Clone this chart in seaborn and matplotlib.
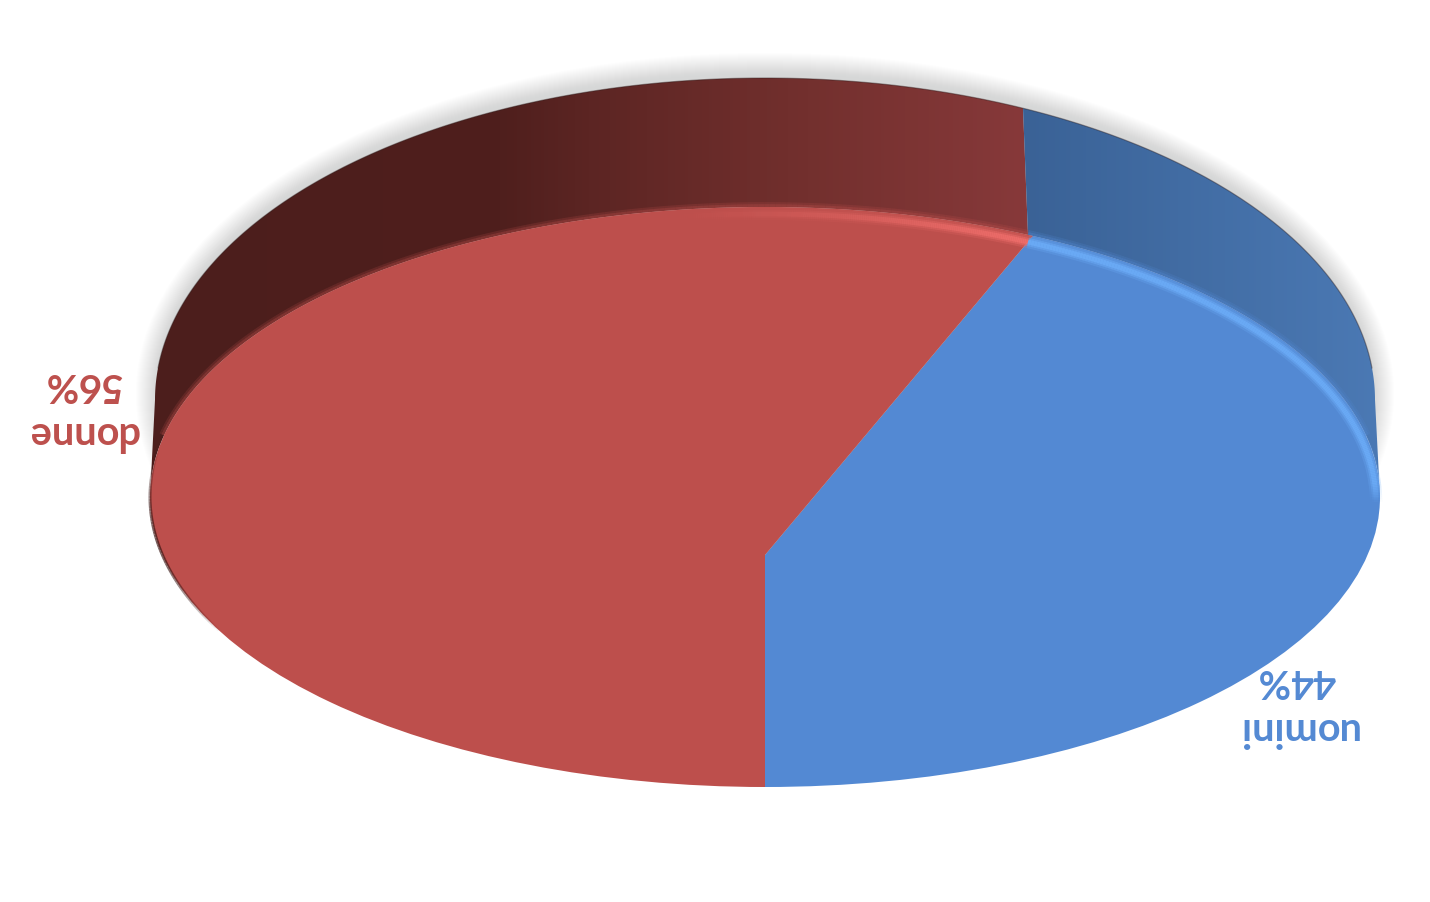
import numpy as np
import seaborn as sns
import matplotlib
matplotlib.use("Agg")
import matplotlib.pyplot as plt
from matplotlib.collections import LineCollection
from matplotlib.colors import LinearSegmentedColormap, to_rgb
from matplotlib.patches import Ellipse, Polygon
from matplotlib.transforms import Affine2D

categories = ["uomini", "donne"]
shares = [44, 56]
face_colors = ["#5389D3", "#BD4F4C"]

# geometry of the fake 3d disc, in image pixels
FACE = (765, 497, 615, 290)
BACK = (765, 400, 610, 322)
APEX = (765, 555)
SPLIT_BACK_X, SPLIT_FACE_X = 1023, 1028

sns.set_theme(style="white")
plt.rcParams["font.family"] = ["Lato", "DejaVu Sans"]

fig = plt.figure(figsize=(14.3, 9.02), dpi=100)
ax = fig.add_axes([0, 0, 1, 1])


def arc(ell, x_from, x_to, n=200):
    # upper half of an ellipse between two x positions
    cx, cy, rx, ry = ell
    t0 = np.arccos(np.clip((x_from - cx) / rx, -1, 1))
    t1 = np.arccos(np.clip((x_to - cx) / rx, -1, 1))
    t = np.linspace(t0, t1, n)
    return np.column_stack([cx + rx * np.cos(t), cy - ry * np.sin(t)])


def soft_line(pts, color, alphas, width, z):
    segs = np.stack([pts[:-1], pts[1:]], axis=1)
    rgb = np.tile(to_rgb(color), (len(segs), 1))
    rgba = np.column_stack([rgb, alphas])
    lc = LineCollection(segs, colors=rgba, linewidths=width, capstyle="butt", zorder=z)
    ax.add_collection(lc, autolim=False)


# pie face: wedges from the shares, squeezed around the apex and cut by the face ellipse
wedges, _ = ax.pie(shares, colors=face_colors, startangle=90, counterclock=False,
                   radius=3, center=(0, 0), wedgeprops={"linewidth": 0})
ax.axis("off")

squeeze = Affine2D().scale(FACE[2], FACE[3]).translate(*APEX) + ax.transData
face_clip = Ellipse(FACE[:2], 2 * FACE[2], 2 * FACE[3], fc="none", ec="none")
ax.add_patch(face_clip)
for w in wedges:
    w.set_transform(squeeze)
    w.set_zorder(4)
    w.set_clip_on(True)
    w.set_clip_path(face_clip)

# drop shadow behind the back rim
for k in range(22, 0, -1):
    ax.add_patch(Ellipse((BACK[0], BACK[1] - 6), 2 * (BACK[2] + k - 3), 2 * (BACK[3] + k - 3),
                         fc="#9a9c9c", ec="none", alpha=0.014, zorder=1))

# side wall with horizontal shading
red_wall = LinearSegmentedColormap.from_list(
    "red_wall", [(0, "#4C1E1C"), (0.4, "#4F1F1D"), (0.5, "#5C2523"), (0.75, "#73302E"), (1, "#87393A")])
blue_wall = LinearSegmentedColormap.from_list("blue_wall", ["#3A6296", "#4B79B4"])
ramp = np.linspace(0, 1, 256)[None, :]

red_pts = np.vstack([arc(BACK, BACK[0] - BACK[2], SPLIT_BACK_X),
                     arc(FACE, SPLIT_FACE_X, FACE[0] - FACE[2])])
blue_pts = np.vstack([arc(BACK, SPLIT_BACK_X, BACK[0] + BACK[2]),
                      arc(FACE, FACE[0] + FACE[2], SPLIT_FACE_X)])
for pts, cmap in [(red_pts, red_wall), (blue_pts, blue_wall)]:
    poly = Polygon(pts, closed=True, fc="none", ec="none")
    ax.add_patch(poly)
    img = ax.imshow(ramp, cmap=cmap, aspect="auto", zorder=2,
                    extent=(pts[:, 0].min(), pts[:, 0].max(), 902, 0))
    img.set_clip_path(poly)
ax.set_xlim(0, 1430)
ax.set_ylim(902, 0)
ax.set_aspect("auto")

# thin dark line along the back edge
ax.plot(*arc(BACK, BACK[0] - BACK[2] + 3, BACK[0] + BACK[2] - 3).T, color="#2a1a1a", lw=0.9, alpha=0.4, zorder=3)

# soft upper edge of the face
for width, a in [(7, 0.2), (4, 0.3)]:
    pts = arc(FACE, FACE[0] - FACE[2] + 14, SPLIT_FACE_X)
    soft_line(pts, face_colors[1], np.full(len(pts) - 1, a), width, 3.5)
    pts = arc(FACE, SPLIT_FACE_X, FACE[0] + FACE[2] - 14)
    soft_line(pts, face_colors[0], np.full(len(pts) - 1, a), width, 3.5)

# dark rim on lower left of the face
t = np.radians(np.linspace(170, 208, 60))
rim = np.column_stack([FACE[0] + FACE[2] * np.cos(t), FACE[1] - FACE[3] * np.sin(t)])
soft_line(rim, "#3a1513", np.sin(np.linspace(0, np.pi, 59)) * 0.7, 2.2, 5)

# highlight running just inside the rim
HL = (FACE[0], FACE[1] + 5, FACE[2] - 4, FACE[3] - 2)
red_hl = arc(HL, 640, SPLIT_FACE_X)
red_fade = np.linspace(0, 1, len(red_hl) - 1) ** 1.6
blue_hl = arc(HL, SPLIT_FACE_X, HL[0] + HL[2])
blue_fade = np.clip((len(blue_hl) - 1 - np.arange(len(blue_hl) - 1)) / 12, 0, 1)
for width, a in [(9, 0.25), (6, 0.45), (3.5, 0.7)]:
    soft_line(red_hl, "#F4716E", red_fade * a, width, 5)
    soft_line(blue_hl, "#6DAEFA", blue_fade * a, width, 5)

ax.text(82.5, 409, f"{categories[1]}\n{shares[1]}%", color=face_colors[1], rotation=180,
        ha="center", va="center", fontsize=28.5, fontweight="bold", linespacing=1.42, zorder=6)
ax.text(1297, 705, f"{categories[0]}\n{shares[0]}%", color=face_colors[0], rotation=180,
        ha="center", va="center", fontsize=28.5, fontweight="bold", linespacing=1.42, zorder=6)

fig.savefig("out.png", dpi=100, facecolor="white")
